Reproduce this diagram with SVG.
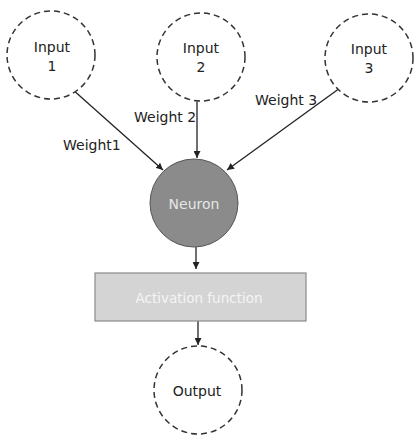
<svg xmlns="http://www.w3.org/2000/svg" width="414" height="436" viewBox="0 0 414 436">
<style>
.dash{fill:#fff;stroke:#333;stroke-width:1.5;stroke-dasharray:6 4}
.t{font-family:"DejaVu Sans",sans-serif;font-size:14px;fill:#222;text-anchor:middle}
.w{font-family:"DejaVu Sans",sans-serif;font-size:14px;fill:#222}
.c{stroke:#222;stroke-width:1.3;fill:none;marker-end:url(#ah)}
</style>
<defs>
<marker id="ah" viewBox="0 0 10 10" refX="10" refY="5" markerWidth="7" markerHeight="7" markerUnits="userSpaceOnUse" orient="auto">
<path d="M0,0 L10,5 L0,10 z" fill="#222"/>
</marker>
</defs>
<rect width="414" height="436" fill="#fff"/>
<g id="connectors">
<line class="c" x1="72" y1="89" x2="163" y2="170"/>
<line class="c" x1="197" y1="102" x2="197" y2="158"/>
<line class="c" x1="340" y1="88" x2="227" y2="170"/>
<line class="c" x1="196" y1="247" x2="196" y2="269"/>
<line class="c" x1="198" y1="321" x2="198" y2="345"/>
</g>
<g id="input1">
<circle class="dash" cx="51" cy="55" r="44"/>
<text class="t" x="52" y="52">Input</text>
<text class="t" x="52" y="71">1</text>
</g>
<g id="input2">
<circle class="dash" cx="201" cy="57" r="44"/>
<text class="t" x="201" y="53">Input</text>
<text class="t" x="201" y="72">2</text>
</g>
<g id="input3">
<circle class="dash" cx="369" cy="58" r="44"/>
<text class="t" x="369" y="54">Input</text>
<text class="t" x="369" y="73">3</text>
</g>
<g id="labels">
<text class="w" x="63" y="150">Weight1</text>
<text class="w" x="134" y="122">Weight 2</text>
<text class="w" x="255" y="105">Weight 3</text>
</g>
<g id="neuron">
<circle cx="194" cy="203" r="44" fill="#8b8b8b" stroke="#555" stroke-width="1"/>
<text class="t" x="194" y="209" style="fill:#e6e6e6">Neuron</text>
</g>
<g id="activation">
<rect x="95" y="273" width="211" height="48" fill="#d4d4d4" stroke="#8a8a8a" stroke-width="1.2"/>
<text class="t" x="199" y="303" style="fill:#f4f4f4;font-size:13.5px">Activation function</text>
</g>
<g id="output">
<circle class="dash" cx="198" cy="390" r="44"/>
<text class="t" x="197" y="396">Output</text>
</g>
</svg>
